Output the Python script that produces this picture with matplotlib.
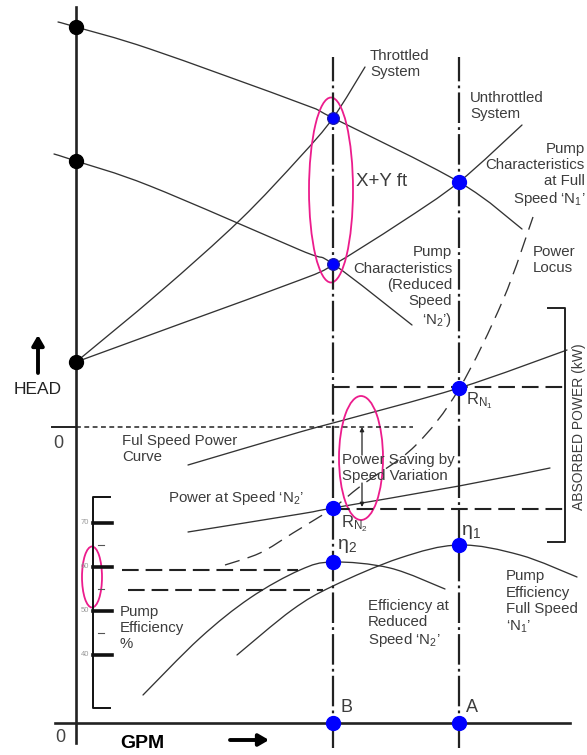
import numpy as np
import matplotlib
matplotlib.use("Agg")
import matplotlib.pyplot as plt
from matplotlib.patches import Ellipse, PathPatch
from matplotlib.path import Path

plt.rcParams['font.family'] = ['Liberation Sans', 'DejaVu Sans']
plt.rcParams['mathtext.fontset'] = 'custom'
plt.rcParams['mathtext.rm'] = 'Liberation Sans'
plt.rcParams['mathtext.it'] = 'Liberation Sans:italic'
plt.rcParams['lines.scale_dashes'] = False

# ===== Data (flow along x from the HEAD axis, height above the GPM axis) =====
FLOW_B, FLOW_A = 257, 383
HEAD_SHUTOFF = [696, 562, 361]          # full speed, reduced speed, static head
POWER_ZERO = 296

pump_full_x = [-18, 0, 74, 224, 257, 383, 446]
pump_full_y = [701, 696, 674, 620, 605, 541, 494]
pump_red_x = [-22, 0, 74, 224, 257, 336]
pump_red_y = [569, 562, 537, 473, 459, 398]
sys_thr_x = [0, 84, 164, 224, 257, 289]
sys_thr_y = [361, 431, 503, 566, 605, 656]
sys_unthr_x = [0, 104, 224, 257, 324, 383, 446]
sys_unthr_y = [361, 399, 443, 458, 500, 541, 598]

power_full_x = [112, 224, 257, 383, 491]
power_full_y = [258, 291, 300, 335, 373]
power_n2_x = [112, 224, 257, 383, 474]
power_n2_y = [191, 209, 215, 237, 255]
power_locus_x = [149, 184, 217, 257, 286, 339, 383, 427, 457]
power_locus_y = [158, 170, 190, 215, 238, 277, 334, 423, 506]

eff_red_x = [67, 124, 174, 224, 257, 314, 369]
eff_red_y = [28, 85, 125, 153, 161, 155, 134]
eff_full_x = [161, 216, 257, 324, 383, 444, 501]
eff_full_y = [68, 113, 137, 165, 178, 168, 146]

eff_ticks = [70, 60, 50, 40]
eff_minor = [65, 55, 45]

blue_x = [FLOW_A, FLOW_A, FLOW_B, FLOW_B, FLOW_A, FLOW_B, FLOW_A]
blue_y = [541, 335, 215, 161, 178, 0, 0]
ring_x = [FLOW_B, FLOW_B]
ring_y = [605, 459]

LINE = '#333333'
TXT = '#3c3c3c'
PINK = '#ec1c8c'
BLUE = '#0000ff'


def smooth(ax, xs, ys, **kw):
    # smooth bezier path through the read points (drawn by matplotlib Path)
    p = np.column_stack([xs, ys]).astype(float)
    n = len(p)
    verts, codes = [p[0]], [Path.MOVETO]
    for i in range(n - 1):
        a = p[max(i - 1, 0)]
        d = p[min(i + 2, n - 1)]
        verts += [p[i] + (p[i + 1] - a) / 6, p[i + 1] - (d - p[i]) / 6, p[i + 1]]
        codes += [Path.CURVE4] * 3
    ax.add_patch(PathPatch(Path(verts, codes), fill=False, **kw))


fig = plt.figure(figsize=(5.87, 7.55), dpi=100)
ax = fig.add_axes([0, 0, 1, 1])
ax.set_xlim(-76, 511)
ax.set_ylim(-32, 723)
ax.axis('off')

# axes
ax.plot([0, 0], [-20, 716], color='#222222', lw=1.9)
ax.plot([-21, 494], [0, 0], color='#222222', lw=1.9)
ax.plot([-24, 0], [POWER_ZERO, POWER_ZERO], color='#222222', lw=1.4)
ax.plot([0, 337], [POWER_ZERO, POWER_ZERO], color='#222222', lw=1.1,
        linestyle=(0, (3.5, 2.5)))

# dash-dot verticals at B and A
for fx in (FLOW_B, FLOW_A):
    ax.plot([fx, fx], [-25, 666], color='#222222', lw=1.6,
            linestyle=(0, (22, 3, 2, 3)))

# head, power and efficiency curves
for xs, ys in [(pump_full_x, pump_full_y), (pump_red_x, pump_red_y),
               (sys_thr_x, sys_thr_y), (sys_unthr_x, sys_unthr_y),
               (power_full_x, power_full_y), (power_n2_x, power_n2_y),
               (eff_red_x, eff_red_y), (eff_full_x, eff_full_y)]:
    smooth(ax, xs, ys, ec=LINE, lw=0.95, capstyle='round')

smooth(ax, power_locus_x, power_locus_y, ec=LINE, lw=0.95,
       linestyle=(0, (11, 6)))

# long dashed reference lines
dash = (0, (12, 5))
ax.plot([FLOW_B, 489], [336, 336], color='#222222', lw=1.5, linestyle=dash)
ax.plot([FLOW_B, 489], [214, 214], color='#222222', lw=1.5, linestyle=dash)
ax.plot([46, 222], [153, 153], color='#222222', lw=1.5, linestyle=dash)
ax.plot([52, 247], [133, 133], color='#222222', lw=1.5, linestyle=dash)

# absorbed power bracket
ax.plot([472, 489, 489, 472], [415, 415, 181, 181], color='#222222', lw=1.4)
ax.text(503, 296, 'ABSORBED POWER (kW)', rotation=90, ha='center', va='center',
        fontsize=10, color=TXT)

# efficiency scale
def eff_y(v):
    return 68 + (v - 40) * 4.4

ax.plot([34, 17, 17, 34], [226, 226, 15, 15], color='#111111', lw=1.4)
for v in eff_ticks:
    ax.plot([17, 36], [eff_y(v), eff_y(v)], color='#111111', lw=2.6)
    ax.text(9, eff_y(v), str(v), ha='center', va='center', fontsize=5.5,
            color='#999999')
for v in eff_minor:
    ax.plot([22, 28], [eff_y(v), eff_y(v)], color='#555555', lw=0.8)

# operating points
ax.plot([0, 0, 0], HEAD_SHUTOFF, 'o', color='black', ms=10)
ax.plot(blue_x, blue_y, 'o', color=BLUE, ms=10)
ax.plot(ring_x, ring_y, 'o', color=BLUE, ms=8.5, mec='#1a1aa0', mew=0.8)

# highlight ellipses
for cx, cy, w, h in [(255, 533, 44, 185), (285, 265, 44, 124), (16, 146, 20, 61)]:
    ax.add_patch(Ellipse((cx, cy), w, h, fill=False, ec=PINK, lw=1.3))

# power saving arrows
ax.annotate('', xy=(286, 296), xytext=(286, 268),
            arrowprops=dict(arrowstyle='-|>', color='#222222', lw=0.9,
                            mutation_scale=6, shrinkA=0, shrinkB=0))
ax.annotate('', xy=(286, 216), xytext=(286, 240),
            arrowprops=dict(arrowstyle='-|>', color='#222222', lw=0.9,
                            mutation_scale=6, shrinkA=0, shrinkB=0))

# axis arrows
ax.annotate('', xy=(-38, 388), xytext=(-38, 350),
            arrowprops=dict(arrowstyle='-|>,head_width=0.35,head_length=0.6',
                            color='black', lw=2.8, shrinkA=0, shrinkB=0))
ax.annotate('', xy=(193, -17), xytext=(154, -17),
            arrowprops=dict(arrowstyle='-|>,head_width=0.35,head_length=0.6',
                            color='black', lw=2.8, shrinkA=0, shrinkB=0))

# labels
fs = 10.8
ls = 1.2
ax.text(294, 659, 'Throttled\nSystem', fontsize=fs, color=TXT, va='center',
        linespacing=ls)
ax.text(394, 617, 'Unthrottled\nSystem', fontsize=fs, color=TXT, va='center',
        linespacing=ls)
ax.text(509, 548, 'Pump\nCharacteristics\nat Full\nSpeed \u2018$\\mathrm{N}_1$\u2019',
        fontsize=fs, color=TXT, va='center', ha='right', multialignment='right',
        linespacing=ls)
ax.text(280, 541, 'X+Y ft', fontsize=13.5, color=TXT, va='center')
ax.text(376, 436, 'Pump\nCharacteristics\n(Reduced\nSpeed\n\u2018$\\mathrm{N}_2$\u2019)',
        fontsize=fs, color=TXT, va='center', ha='right', multialignment='right',
        linespacing=ls)
ax.text(457, 463, 'Power\nLocus', fontsize=fs, color=TXT, va='center',
        linespacing=ls)
ax.text(-38, 333, 'HEAD', fontsize=12.5, color='#222222', va='center', ha='center')
ax.text(-18, 280, '0', fontsize=13, color='#444444', va='center', ha='center')
ax.text(-16, -14, '0', fontsize=13, color='#444444', va='center', ha='center')
ax.text(66, -20, 'GPM', fontsize=14, fontweight='bold', color='black',
        va='center', ha='center')
ax.text(46, 274, 'Ful Speed Power\nCurve', fontsize=fs, color=TXT, va='center',
        linespacing=ls)
ax.text(92, 225, 'Power at Speed \u2018$\\mathrm{N}_2$\u2019', fontsize=fs,
        color=TXT, va='center')
ax.text(266, 255, 'Power Saving by\nSpeed Variation', fontsize=fs, color=TXT,
        va='center', linespacing=ls)
ax.text(390, 322, '$\\mathrm{R}_{\\mathrm{N}_1}$', fontsize=12, color=TXT,
        va='center')
ax.text(265, 199, '$\\mathrm{R}_{\\mathrm{N}_2}$', fontsize=12, color=TXT,
        va='center')
ax.text(385, 191, '$\\mathrm{\\eta}_1$', fontsize=14, color=TXT, va='center')
ax.text(261, 177, '$\\mathrm{\\eta}_2$', fontsize=14, color=TXT, va='center')
ax.text(292, 99, 'Efficiency at\nReduced\nSpeed \u2018$\\mathrm{N}_2$\u2019',
        fontsize=fs, color=TXT, va='center', linespacing=ls)
ax.text(430, 121, 'Pump\nEfficiency\nFull Speed\n\u2018$\\mathrm{N}_1$\u2019',
        fontsize=fs, color=TXT, va='center', linespacing=ls)
ax.text(44, 95, 'Pump\nEfficiency\n%', fontsize=fs, color=TXT, va='center',
        linespacing=ls)
ax.text(264, 15, 'B', fontsize=13, color=TXT, va='center')
ax.text(390, 15, 'A', fontsize=13, color=TXT, va='center')

fig.savefig('out.png', dpi=100)
